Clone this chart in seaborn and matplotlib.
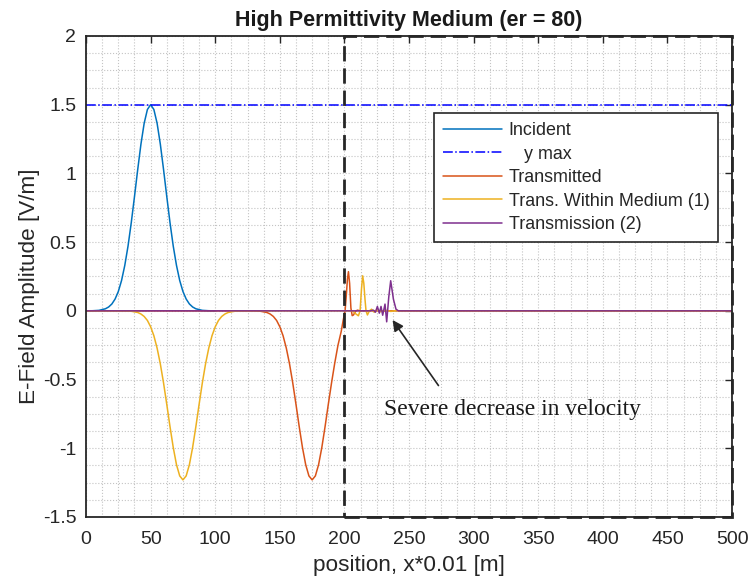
import numpy as np
import pandas as pd
import seaborn as sns
import matplotlib.pyplot as plt
from matplotlib.patches import Rectangle
from matplotlib.ticker import MultipleLocator

# Incident pulse (blue)
inc_x = [0, 5, 10, 15, 17.5, 20, 22.5, 25, 27.5, 30, 32.5, 35, 37.5, 40, 42.5, 45, 47.5,
         50, 52.5, 55, 57.5, 60, 62.5, 65, 67.5, 70, 72.5, 75, 77.5, 80, 82.5, 85, 90,
         95, 100]
inc_y = [0, 0.0007, 0.0035, 0.015, 0.028, 0.050, 0.086, 0.141, 0.221, 0.331, 0.471,
         0.641, 0.831, 1.028, 1.213, 1.365, 1.465, 1.5, 1.465, 1.365, 1.213, 1.028, 0.831,
         0.641, 0.471, 0.331, 0.221, 0.141, 0.086, 0.050, 0.028, 0.015, 0.0035, 0.0007, 0]

# Transmitted (orange)
trn_x = [0, 130, 135, 140, 142.5, 145, 147.5, 150, 152.5, 155, 157.5, 160, 162.5, 165,
         167.5, 170, 172.5, 175, 177.5, 180, 182.5, 185, 187.5, 190, 192.5, 195, 197.5,
         199, 200.5, 201.5, 202.3, 203.1, 204, 205, 206, 207, 208.5, 210, 212, 500]
trn_y = [0, -0.0006, -0.003, -0.012, -0.023, -0.041, -0.070, -0.116, -0.181, -0.271,
         -0.386, -0.525, -0.681, -0.843, -0.994, -1.119, -1.201, -1.23, -1.201, -1.119,
         -0.994, -0.843, -0.681, -0.525, -0.38, -0.25, -0.15, -0.07, 0.0, 0.12, 0.23,
         0.285, 0.2, 0.02, -0.035, -0.03, -0.005, 0.005, 0, 0]

# Transmitted within medium (yellow)
twm_x = [0, 30, 35, 40, 42.5, 45, 47.5, 50, 52.5, 55, 57.5, 60, 62.5, 65, 67.5, 70, 72.5,
         75, 77.5, 80, 82.5, 85, 87.5, 90, 92.5, 95, 97.5, 100, 102.5, 105, 107.5, 110,
         115, 120, 206.3, 208.5, 210.8, 212.1, 213.2, 214.1, 215, 215.9, 216.7, 217.8,
         219.3, 221, 223, 225, 228, 232, 236, 240, 243, 500]
twm_y = [0, -0.0006, -0.003, -0.012, -0.023, -0.041, -0.070, -0.116, -0.181, -0.271,
         -0.386, -0.525, -0.681, -0.843, -0.994, -1.119, -1.201, -1.23, -1.201, -1.119,
         -0.994, -0.843, -0.681, -0.525, -0.386, -0.271, -0.181, -0.116, -0.070, -0.041,
         -0.023, -0.012, -0.003, -0.0006, 0, -0.02, -0.036, 0.0, 0.16, 0.255, 0.2, 0.085,
         0.0, -0.03, 0.0, 0.012, -0.01, 0.008, -0.006, 0.004, -0.004, 0.002, 0, 0]

# Transmission (2) (purple)
tr2_x = [0, 220, 222.4, 224, 225.5, 227.0, 228.3, 229.6, 231.4, 232.7, 234.3, 235.8,
         237.9, 239.9, 241.7, 500]
tr2_y = [0, 0, 0.005, -0.01, 0.032, -0.017, 0.032, -0.032, 0.049, -0.08, 0.1, 0.219,
         0.085, 0.012, 0, 0]

y_max = 1.5
medium_start, medium_end = 200, 500
x_ticks = [0, 50, 100, 150, 200, 250, 300, 350, 400, 450, 500]
y_ticks = [-1.5, -1, -0.5, 0, 0.5, 1, 1.5, 2]
y_tick_labels = ['-1.5', '-1', '-0.5', '0', '0.5', '1', '1.5', '2']

sns.set_style('white')
plt.rcParams['font.family'] = ['Liberation Sans', 'DejaVu Sans']
dark = '#262626'

fig = plt.figure(figsize=(7.54, 5.82), dpi=100)
ax = fig.add_axes([0.1141, 0.1117, 0.8568, 0.8265])

sns.lineplot(x=inc_x, y=inc_y, ax=ax, color='#0072BD', lw=1.1, label='Incident')
ax.axhline(y_max, color='#0000FF', lw=1.1, linestyle='-.', label='   y max')
sns.lineplot(x=trn_x, y=trn_y, ax=ax, color='#D95319', lw=1.1, label='Transmitted')
sns.lineplot(x=twm_x, y=twm_y, ax=ax, color='#EDB120', lw=1.1,
             label='Trans. Within Medium (1)')
sns.lineplot(x=tr2_x, y=tr2_y, ax=ax, color='#7E2F8E', lw=1.1, label='Transmission (2)')

ax.set_xlim(0, 500)
ax.set_ylim(-1.5, 2)
ax.set_xticks(x_ticks)
ax.set_yticks(y_ticks)
ax.set_yticklabels(y_tick_labels)
ax.xaxis.set_minor_locator(MultipleLocator(12.5))
ax.yaxis.set_minor_locator(MultipleLocator(0.125))
ax.grid(which='both', linestyle=':', color='#c4c4c4', lw=0.8)
ax.set_axisbelow(True)
ax.tick_params(which='major', direction='in', top=True, right=True, length=5, width=1,
               color=dark, labelcolor=dark, labelsize=14)
ax.tick_params(axis='x', which='major', pad=10)
ax.tick_params(axis='y', which='major', pad=7)
ax.tick_params(which='minor', length=0)
for s in ax.spines.values():
    s.set_color(dark)
    s.set_linewidth(1.3)

# medium boundary box
ax.add_patch(Rectangle((medium_start, -1.5), medium_end - medium_start, 3.5, fill=False,
                       edgecolor=dark, lw=2, linestyle=(0, (5.5, 2.5)), clip_on=False,
                       zorder=5))

ax.annotate('', xy=(236, -0.05), xytext=(274, -0.56),
            arrowprops=dict(arrowstyle='-|>', color=dark, lw=1.2, mutation_scale=16))
ax.text(230.6, -0.72, 'Severe decrease in velocity', family='Liberation Serif',
        fontsize=16.9, color='#1a1a1a', va='center', ha='left')

ax.set_title('High Permittivity Medium (er = 80)', fontsize=15.5, fontweight='bold',
             color='#1a1a1a', pad=7)
ax.set_xlabel('position, x*0.01 [m]', fontsize=16.2, color=dark, labelpad=5)
ax.set_ylabel('E-Field Amplitude [V/m]', fontsize=16.2, color=dark)
ax.yaxis.set_label_coords(-0.071, 0.479)

leg = ax.legend(loc='upper left', bbox_to_anchor=(0.5387, 0.8393), fontsize=12.9,
                frameon=True, fancybox=False, framealpha=1, edgecolor=dark,
                handlelength=3.3, handletextpad=0.37, borderpad=0.5, labelspacing=0.36,
                borderaxespad=0)
leg.get_frame().set_linewidth(1.2)

fig.savefig('out.png', dpi=100)
